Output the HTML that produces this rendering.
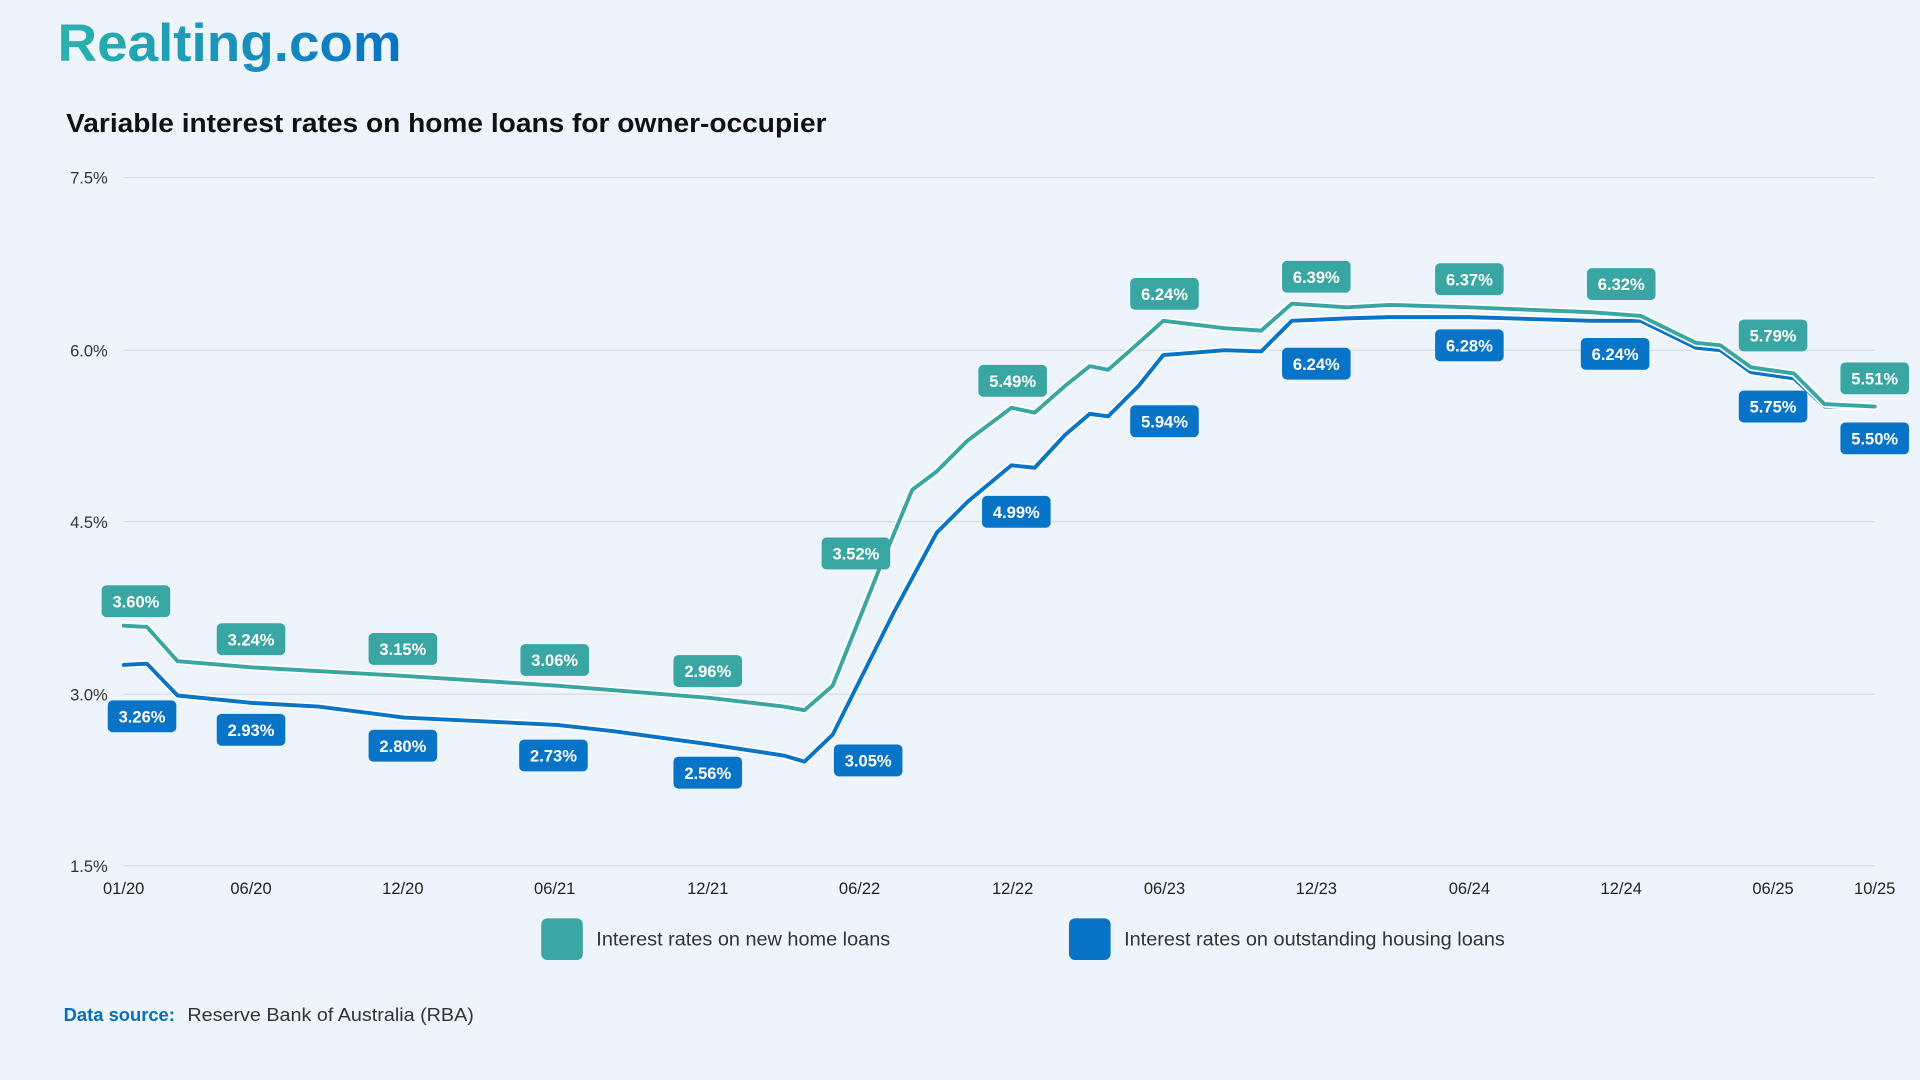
<!DOCTYPE html>
<html><head><meta charset="utf-8"><style>
html,body{margin:0;padding:0;background:#eef4fb;}
svg{display:block;}
text{font-family:"Liberation Sans",sans-serif;}
</style></head><body>
<svg width="1920" height="1080" viewBox="0 0 1568 882" xmlns="http://www.w3.org/2000/svg">
<defs>
<linearGradient id="lg" x1="0" x2="1" y1="0" y2="0">
<stop offset="0" stop-color="#2bb3ad"/><stop offset="1" stop-color="#0a72c6"/>
</linearGradient>
</defs>
<rect width="1568" height="882" fill="#eef4fb"/>
<text x="47" y="50" font-size="43" font-weight="bold" fill="url(#lg)" textLength="281" lengthAdjust="spacingAndGlyphs">Realting.com</text>
<text x="54" y="108" font-size="21.5" font-weight="bold" fill="#111" textLength="621" lengthAdjust="spacingAndGlyphs">Variable interest rates on home loans for owner-occupier</text>
<g stroke="#d8dce2" stroke-width="1">
<line x1="101" x2="1531" y1="145" y2="145"/><line x1="101" x2="1531" y1="286" y2="286"/>
<line x1="101" x2="1531" y1="426" y2="426"/><line x1="101" x2="1531" y1="567" y2="567"/>
<line x1="101" x2="1531" y1="707" y2="707"/>
</g>
<g font-size="13.5" fill="#333" text-anchor="end">
<text x="88" y="150">7.5%</text><text x="88" y="291">6.0%</text><text x="88" y="431">4.5%</text><text x="88" y="572">3.0%</text><text x="88" y="712">1.5%</text>
</g>
<g font-size="13.5" fill="#222" text-anchor="middle">
<text x="101" y="730">01/20</text><text x="205" y="730">06/20</text><text x="329" y="730">12/20</text><text x="453" y="730">06/21</text><text x="578" y="730">12/21</text><text x="702" y="730">06/22</text><text x="827" y="730">12/22</text><text x="951" y="730">06/23</text><text x="1075" y="730">12/23</text><text x="1200" y="730">06/24</text><text x="1324" y="730">12/24</text><text x="1448" y="730">06/25</text><text x="1531" y="730">10/25</text>
</g>
<g fill="none" stroke-linejoin="round" stroke-linecap="round">
<polyline stroke="#fff" stroke-width="6" points="101,543 120,542 145,568 205,574 260,577 330,586 455,592 500,597 580,608 640,617 657,622 680,600 700,560 730,500 765,435 790,410 826,380 845,382 870,355 890,338 905,340 930,315 950,290 975,288 1000,286 1030,287 1055,262 1100,260 1135,259 1200,259 1300,262 1340,262 1385,284 1405,286 1430,304 1465,309 1490,332 1531,332"/>
<polyline stroke="#0874c8" stroke-width="3.2" points="101,543 120,542 145,568 205,574 260,577 330,586 455,592 500,597 580,608 640,617 657,622 680,600 700,560 730,500 765,435 790,410 826,380 845,382 870,355 890,338 905,340 930,315 950,290 975,288 1000,286 1030,287 1055,262 1100,260 1135,259 1200,259 1300,262 1340,262 1385,284 1405,286 1430,304 1465,309 1490,332 1531,332"/>
<polyline stroke="#fff" stroke-width="6" points="101,511 120,512 145,540 205,545 330,552 455,560 580,570 640,577 657,580 680,560 700,510 720,460 745,400 765,385 790,360 826,333 845,337 870,315 890,299 905,302 930,280 950,262 1000,268 1030,270 1055,248 1100,251 1135,249 1200,251 1300,255 1340,258 1385,280 1405,282 1430,300 1465,305 1490,330 1531,332"/>
<polyline stroke="#3aa6a3" stroke-width="3.2" points="101,511 120,512 145,540 205,545 330,552 455,560 580,570 640,577 657,580 680,560 700,510 720,460 745,400 765,385 790,360 826,333 845,337 870,315 890,299 905,302 930,280 950,262 1000,268 1030,270 1055,248 1100,251 1135,249 1200,251 1300,255 1340,258 1385,280 1405,282 1430,300 1465,305 1490,330 1531,332"/>
</g>
<g font-size="13.5" font-weight="bold" fill="#fff" text-anchor="middle">
<g fill="#3aa6a3">
<rect x="83" y="478" width="56" height="26" rx="4"/><rect x="177" y="509" width="56" height="26" rx="4"/><rect x="301" y="517" width="56" height="26" rx="4"/><rect x="425" y="526" width="56" height="26" rx="4"/><rect x="550" y="535" width="56" height="26" rx="4"/><rect x="671" y="439" width="56" height="26" rx="4"/><rect x="799" y="298" width="56" height="26" rx="4"/><rect x="923" y="227" width="56" height="26" rx="4"/><rect x="1047" y="213" width="56" height="26" rx="4"/><rect x="1172" y="215" width="56" height="26" rx="4"/><rect x="1296" y="219" width="56" height="26" rx="4"/><rect x="1420" y="261" width="56" height="26" rx="4"/><rect x="1503" y="296" width="56" height="26" rx="4"/>
</g>
<g fill="#0874c8">
<rect x="88" y="572" width="56" height="26" rx="4"/><rect x="177" y="583" width="56" height="26" rx="4"/><rect x="301" y="596" width="56" height="26" rx="4"/><rect x="424" y="604" width="56" height="26" rx="4"/><rect x="550" y="618" width="56" height="26" rx="4"/><rect x="681" y="608" width="56" height="26" rx="4"/><rect x="802" y="405" width="56" height="26" rx="4"/><rect x="923" y="331" width="56" height="26" rx="4"/><rect x="1047" y="284" width="56" height="26" rx="4"/><rect x="1172" y="269" width="56" height="26" rx="4"/><rect x="1291" y="276" width="56" height="26" rx="4"/><rect x="1420" y="319" width="56" height="26" rx="4"/><rect x="1503" y="345" width="56" height="26" rx="4"/>
</g>
<text x="111" y="496">3.60%</text><text x="205" y="527">3.24%</text><text x="329" y="535">3.15%</text><text x="453" y="544">3.06%</text><text x="578" y="553">2.96%</text><text x="699" y="457">3.52%</text><text x="827" y="316">5.49%</text><text x="951" y="245">6.24%</text><text x="1075" y="231">6.39%</text><text x="1200" y="233">6.37%</text><text x="1324" y="237">6.32%</text><text x="1448" y="279">5.79%</text><text x="1531" y="314">5.51%</text>
<text x="116" y="590">3.26%</text><text x="205" y="601">2.93%</text><text x="329" y="614">2.80%</text><text x="452" y="622">2.73%</text><text x="578" y="636">2.56%</text><text x="709" y="626">3.05%</text><text x="830" y="423">4.99%</text><text x="951" y="349">5.94%</text><text x="1075" y="302">6.24%</text><text x="1200" y="287">6.28%</text><text x="1319" y="294">6.24%</text><text x="1448" y="337">5.75%</text><text x="1531" y="363">5.50%</text>
</g>
<rect x="442" y="750" width="34" height="34" rx="5" fill="#3aa6a3"/>
<text x="487" y="772" font-size="15.5" fill="#333" textLength="240" lengthAdjust="spacingAndGlyphs">Interest rates on new home loans</text>
<rect x="873" y="750" width="34" height="34" rx="5" fill="#0874c8"/>
<text x="918" y="772" font-size="15.5" fill="#333" textLength="311" lengthAdjust="spacingAndGlyphs">Interest rates on outstanding housing loans</text>
<text x="52" y="834" font-size="15" font-weight="bold" fill="#0a6fb8">Data source:</text>
<text x="153" y="834" font-size="15" fill="#333" textLength="234" lengthAdjust="spacingAndGlyphs">Reserve Bank of Australia (RBA)</text>
</svg>
</body></html>
